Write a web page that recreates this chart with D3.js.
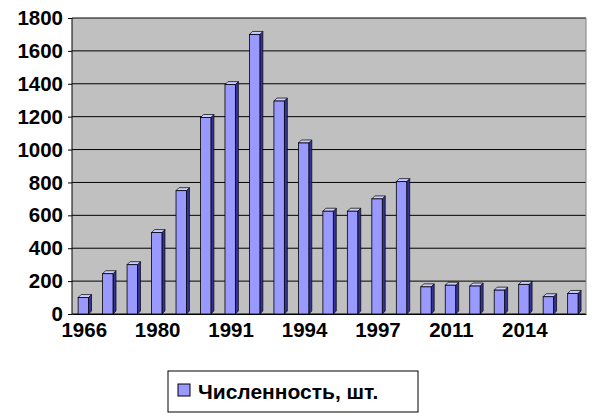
<!DOCTYPE html><html><head><meta charset="utf-8"><script src="https://d3js.org/d3.v7.min.js"></script>
<style>body{margin:0;background:#fff}</style></head><body><svg id="c" width="592" height="417"></svg><script>
const categories=["1966","1975","1978","1980","1985","1988","1991","1992","1993","1994","1995","1996","1997","1998","1999","2011","2012","2013","2014","2015","2016"];
const values=[100,245,300,495,750,1195,1395,1700,1295,1040,625,625,700,805,165,175,170,145,180,105,125];
const shownTicks=["1966","1980","1991","1994","1997","2011","2014"];
const yTicks=[0,200,400,600,800,1000,1200,1400,1600,1800];
const seriesName="Численность, шт.";
const svg=d3.select("#c");
const L=72,R=586,T=18,B=314;
const x=d3.scaleBand().domain(categories).range([L,R]).paddingInner(0.5).paddingOuter(0.25);
const y=d3.scaleLinear().domain([0,1800]).range([B,T]);
svg.append("rect").attr("x",L).attr("y",T).attr("width",R-L).attr("height",B-T).attr("fill","#c0c0c0");
svg.append("g").selectAll("line").data(yTicks).join("line").attr("x1",L).attr("x2",R).attr("y1",d=>y(d)).attr("y2",d=>y(d)).attr("stroke","#000").attr("stroke-width",1);
svg.append("line").attr("x1",L).attr("x2",L).attr("y1",T).attr("y2",B).attr("stroke","#000");
svg.append("line").attr("x1",R).attr("x2",R).attr("y1",T).attr("y2",B).attr("stroke","#808080");
const d3d=3,bw=x.bandwidth()*0.85;
const g=svg.append("g");
categories.forEach((c,i)=>{
 const x0=x(c),y0=y(values[i]),w=bw;
 g.append("polygon").attr("points",`${x0+w},${y0} ${x0+w+d3d},${y0-d3d} ${x0+w+d3d},${B-d3d} ${x0+w},${B}`).attr("fill","#333399").attr("stroke","#000").attr("stroke-width",0.7);
 g.append("polygon").attr("points",`${x0},${y0} ${x0+d3d},${y0-d3d} ${x0+w+d3d},${y0-d3d} ${x0+w},${y0}`).attr("fill","#ccccff").attr("stroke","#000").attr("stroke-width",0.7);
 g.append("rect").attr("x",x0).attr("y",y0).attr("width",w).attr("height",B-y0).attr("fill","#9999ff").attr("stroke","#000").attr("stroke-width",0.8);
});
const ya=svg.append("g").attr("transform",`translate(${L},0)`).call(d3.axisLeft(y).tickValues(yTicks).tickSize(4).tickFormat(d3.format("d")));
ya.selectAll("text").attr("font-family","Liberation Sans, Arial").attr("font-size",20.5).attr("font-weight","bold").attr("fill","#000").attr("dx",-2);
ya.select(".domain").remove();
const xa=svg.append("g").attr("transform",`translate(0,${B})`).call(d3.axisBottom(x).tickSize(0).tickFormat(d=>shownTicks.includes(d)?d:""));
xa.selectAll("text").attr("font-family","Liberation Sans, Arial").attr("font-size",20.5).attr("font-weight","bold").attr("fill","#000").attr("dy",20);
xa.select(".domain").attr("stroke","#000");
const lg=svg.append("g");
lg.append("rect").attr("x",168).attr("y",371).attr("width",250).attr("height",41).attr("fill","#fff").attr("stroke","#000");
lg.append("rect").attr("x",178).attr("y",384).attr("width",12).attr("height",12).attr("fill","#9999ff").attr("stroke","#000");
lg.append("text").attr("x",198).attr("y",399).attr("font-family","Liberation Sans, Arial").attr("font-size",21).attr("font-weight","bold").text(seriesName);
</script></body></html>
